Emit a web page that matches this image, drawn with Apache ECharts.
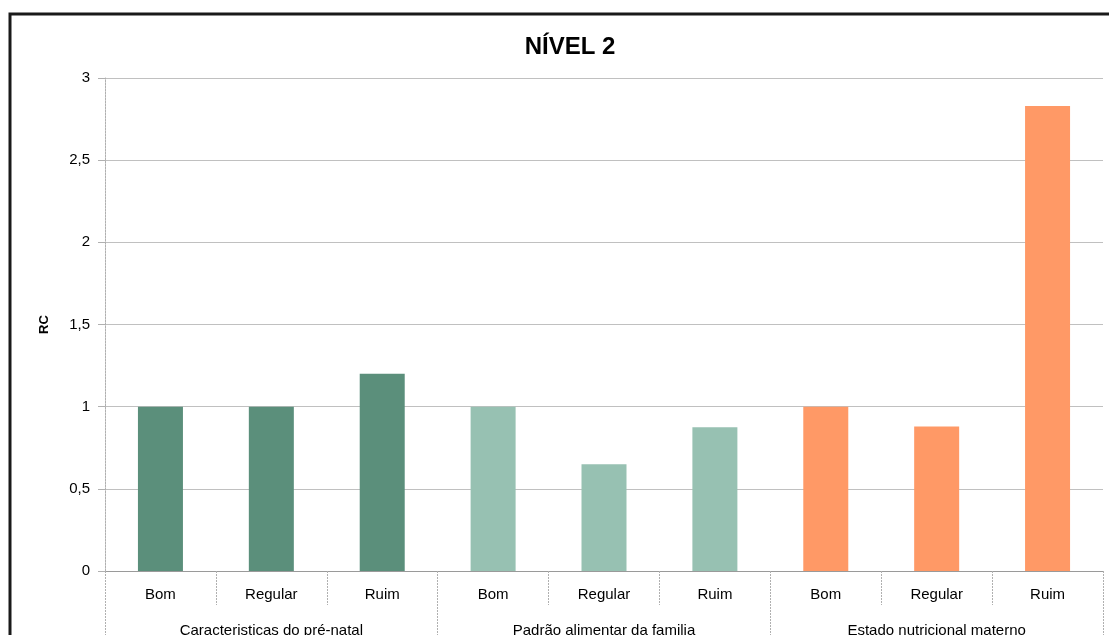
<!DOCTYPE html>
<html>
<head>
<meta charset="utf-8">
<script src="https://cdn.jsdelivr.net/npm/echarts@6/dist/echarts.min.js"></script>
<style>
  html, body { margin: 0; padding: 0; background: #fff; }
  #chart { width: 1109px; height: 635px; }
</style>
</head>
<body>
<div id="chart"></div>
<script>
// Categories within each group, and the groups themselves
const levels = ['Bom', 'Regular', 'Ruim'];
const groups = ['Caracteristicas do pré-natal', 'Padrão alimentar da familia', 'Estado nutricional materno'];
const groupColors = ['#5b8f7b', '#97c1b2', '#ff9966'];

// RC values per group (Bom, Regular, Ruim)
const preNatal = [1, 1, 1.2];
const padraoAlimentar = [1, 0.65, 0.875];
const estadoNutricional = [1, 0.88, 2.83];

const yTicks = { min: 0, max: 3, interval: 0.5 };

const seriesByGroup = [preNatal, padraoAlimentar, estadoNutricional];
const categories = [];
const barData = [];
seriesByGroup.forEach((vals, g) => {
  vals.forEach((v, i) => {
    categories.push(levels[i]);
    barData.push({ value: v, itemStyle: { color: groupColors[g] } });
  });
});

const font = 'Liberation Sans, Arial, sans-serif';
const gridColor = '#c0c0c0';

const chart = echarts.init(document.getElementById('chart'));
chart.setOption({
  animation: false,
  backgroundColor: '#fff',
  title: {
    text: 'NÍVEL 2',
    left: 565, top: 30, textAlign: 'center',
    textStyle: { fontFamily: font, fontSize: 24, fontWeight: 'bold', color: '#000' }
  },
  grid: { left: 105, right: 6, top: 78, bottom: 64, outerBoundsMode: 'none' },
  xAxis: [
    {
      type: 'category',
      data: categories,
      position: 'bottom',
      axisLine: { show: true, lineStyle: { color: '#9a9a9a', width: 1 } },
      axisTick: { show: true, interval: 0, alignWithLabel: false, length: 34,
        lineStyle: { color: '#b0b0b0', type: [2, 1] } },
      axisLabel: { interval: 0, margin: 16, fontFamily: font, fontSize: 15, color: '#000' },
      splitLine: { show: false }
    },
    {
      type: 'category',
      data: groups,
      position: 'bottom',
      gridIndex: 0,
      axisLine: { show: false },
      axisTick: { show: true, interval: 0, alignWithLabel: false, length: 80,
        lineStyle: { color: '#b0b0b0', type: [2, 1] } },
      axisLabel: { interval: 0, margin: 52, fontFamily: font, fontSize: 15, color: '#000' },
      splitLine: { show: false }
    }
  ],
  yAxis: {
    type: 'value',
    min: yTicks.min, max: yTicks.max, interval: yTicks.interval,
    name: 'RC',
    nameLocation: 'middle',
    nameGap: 54,
    nameRotate: 90,
    nameTextStyle: { fontFamily: font, fontSize: 13, fontWeight: 'bold', color: '#000' },
    axisLine: { show: true, lineStyle: { color: '#b0b0b0', type: [2, 1] } },
    axisTick: { show: true, length: 7, lineStyle: { color: '#b0b0b0' } },
    axisLabel: { margin: 15, fontFamily: font, fontSize: 15, color: '#000',
      formatter: v => String(v).replace('.', ',') },
    splitLine: { show: true, lineStyle: { color: gridColor, width: 1 } }
  },
  series: [{
    type: 'bar',
    xAxisIndex: 0,
    data: barData,
    barWidth: 45
  }],
  graphic: [{
    type: 'rect',
    shape: { x: 10, y: 14, width: 1200, height: 700 },
    style: { fill: 'none', stroke: '#1a1a1a', lineWidth: 3 },
    silent: true,
    z: 100
  }]
});
</script>
</body>
</html>
